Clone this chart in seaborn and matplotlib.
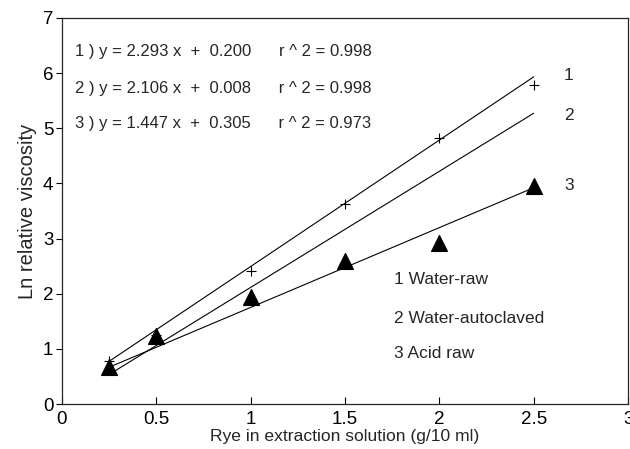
import numpy as np
import pandas as pd
import seaborn as sns
import matplotlib.pyplot as plt

rye = [0.25, 0.5, 1.0, 1.5, 2.0, 2.5]
water_raw = [0.78, 1.25, 2.42, 3.62, 4.82, 5.78]
acid_raw = [0.67, 1.23, 1.94, 2.60, 2.92, 3.96]

# regression coefficients as printed on the chart
slopes = [2.293, 2.106, 1.447]
intercepts = [0.200, 0.008, 0.305]
r2 = [0.998, 0.998, 0.973]
fit_range = [0.25, 2.5]

series_names = ["1 Water-raw", "2 Water-autoclaved", "3 Acid raw"]

sns.set_style("ticks")
plt.rcParams['font.family'] = ['Liberation Sans', 'DejaVu Sans']

fig = plt.figure(figsize=(6.3, 4.49), dpi=100)
ax = fig.add_axes([0.098, 0.100, 0.899, 0.860])

# fit lines
for i, (m, b) in enumerate(zip(slopes, intercepts)):
    xs = np.array(fit_range)
    fit = pd.DataFrame({"x": xs, "y": m * xs + b})
    sns.lineplot(data=fit, x="x", y="y", ax=ax, color="black", lw=0.8)

pts = pd.DataFrame({"x": rye, "raw": water_raw, "acid": acid_raw})
sns.scatterplot(data=pts, x="x", y="raw", ax=ax, marker="+", s=55,
                color="black", linewidth=0.8)
sns.scatterplot(data=pts, x="x", y="acid", ax=ax, marker="^", s=130,
                color="black", edgecolor="black")

ax.set_xlim(0, 3)
ax.set_ylim(0, 7)
ax.set_xticks([0, 0.5, 1, 1.5, 2, 2.5, 3])
ax.set_xticklabels(["0", "0.5", "1", "1.5", "2", "2.5", "3"])
ax.set_yticks(range(8))
ax.tick_params(axis="x", direction="in", length=5, width=0.8, labelsize=13.5,
               colors="black", pad=5)
ax.tick_params(axis="y", direction="out", length=4, width=0.8, labelsize=13.5,
               colors="black", pad=2)
for s in ax.spines.values():
    s.set_linewidth(0.9)
    s.set_visible(True)

ax.set_xlabel("Rye in extraction solution (g/10 ml)", fontsize=12.6, labelpad=1)
ax.set_ylabel("Ln relative viscosity", fontsize=14.5, labelpad=4)

# equations
eq_y = [6.39, 5.73, 5.08]
for i in range(3):
    ax.text(0.07, eq_y[i],
            f"{i+1} ) y = {slopes[i]:.3f} x  +  {intercepts[i]:.3f}      r ^ 2 = {r2[i]:.3f}",
            fontsize=12, va="center", ha="left")

# line numbers at right
num_y = [5.95, 5.24, 3.97]
for i in range(3):
    ax.text(2.66, num_y[i], str(i + 1), fontsize=12.5, va="center", ha="left")

# key
key_y = [2.25, 1.56, 0.91]
for name, y in zip(series_names, key_y):
    ax.text(1.76, y, name, fontsize=12.5, va="center", ha="left")

fig.savefig("out.png", dpi=100)
